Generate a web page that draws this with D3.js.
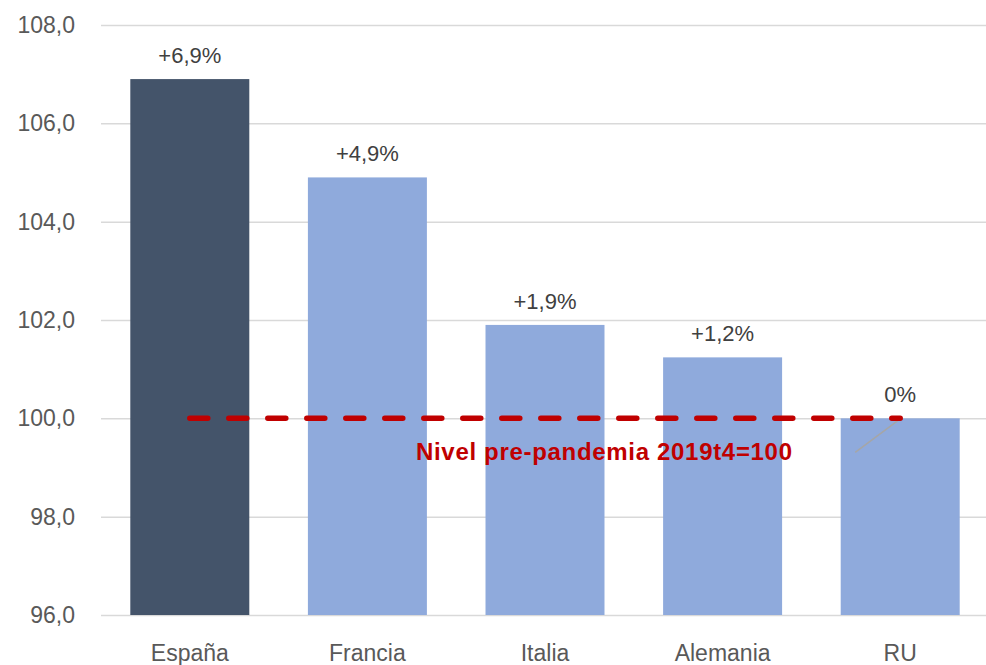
<!DOCTYPE html>
<html lang="es">
<head>
<meta charset="UTF-8">
<title>Nivel pre-pandemia</title>
<script src="https://d3js.org/d3.v7.min.js"></script>
<style>
  body { margin: 0; background: #fff; }
  text { font-family: "Liberation Sans", Arial, sans-serif; }
  .grid line { stroke: #d9d9d9; stroke-width: 1.5; }
  .grid path { stroke-width: 0; }
  .axis text { fill: #595959; font-size: 23px; }
  .axis path, .axis line { display: none; }
</style>
</head>
<body>
<div id="chart"></div>
<script>
// Data
const categories = ["España", "Francia", "Italia", "Alemania", "RU"];
const values = [106.9, 104.9, 101.9, 101.24, 100.0];
const labels = ["+6,9%", "+4,9%", "+1,9%", "+1,2%", "0%"];
const yTicks = [96, 98, 100, 102, 104, 106, 108];
const baseline = 100;
const baselineLabel = "Nivel pre-pandemia 2019t4=100";

const width = 986, height = 665;
const margin = { top: 25, right: -3, bottom: 50, left: 101 };
const innerW = width - margin.left - margin.right;
const innerH = height - margin.top - margin.bottom;

const svg = d3.select('#chart').append('svg')
  .attr('width', width).attr('height', height);

const g = svg.append('g')
  .attr('transform', `translate(${margin.left},${margin.top})`);

const x = d3.scaleBand().domain(categories).range([0, innerW]).paddingInner(0.33).paddingOuter(0.165);
const y = d3.scaleLinear().domain([96, 108]).range([innerH, 0]);

// gridlines
g.append('g')
  .attr('class', 'grid')
  .call(d3.axisLeft(y).tickValues(yTicks).tickSize(-innerW).tickFormat(''));

// bars
g.selectAll('.bar')
  .data(values)
  .enter().append('rect')
  .attr('class', 'bar')
  .attr('x', (d, i) => x(categories[i]))
  .attr('y', d => y(d))
  .attr('width', x.bandwidth())
  .attr('height', d => innerH - y(d))
  .attr('fill', (d, i) => i === 0 ? '#44546a' : '#8faadc');

// value labels
g.selectAll('.val')
  .data(values)
  .enter().append('text')
  .attr('x', (d, i) => x(categories[i]) + x.bandwidth() / 2)
  .attr('y', d => y(d) - 16)
  .attr('text-anchor', 'middle')
  .attr('fill', '#404040')
  .style('font-size', '22px')
  .text((d, i) => labels[i]);

// y axis
g.append('g')
  .attr('class', 'axis')
  .call(d3.axisLeft(y).tickValues(yTicks).tickSize(0).tickPadding(26)
    .tickFormat(d => d3.format('.1f')(d).replace('.', ',')));

// x axis
g.append('g')
  .attr('class', 'axis')
  .attr('transform', `translate(0,${innerH})`)
  .call(d3.axisBottom(x).tickSize(0).tickPadding(30));

// leader line for RU label
const ruX = x('RU') + x.bandwidth() / 2;
g.append('line')
  .attr('x1', ruX - 45).attr('y1', y(baseline) + 34)
  .attr('x2', ruX - 2).attr('y2', y(baseline) + 2)
  .attr('stroke', '#a6a6a6').attr('stroke-width', 1.5);

// pre-pandemic dashed line
const x0 = x(categories[0]) + x.bandwidth() / 2;
g.append('line')
  .attr('x1', x0).attr('x2', ruX)
  .attr('y1', y(baseline)).attr('y2', y(baseline))
  .attr('stroke', '#c00000')
  .attr('stroke-width', 5.5)
  .attr('stroke-linecap', 'round')
  .attr('stroke-dasharray', '18 21');

g.append('text')
  .attr('x', x('Italia') + x.bandwidth() / 2 + 59)
  .attr('y', y(baseline) + 42)
  .attr('text-anchor', 'middle')
  .attr('fill', '#c00000')
  .style('font-size', '24px')
  .style('font-weight', 'bold')
  .attr('textLength', 376)
  .text(baselineLabel);
</script>
</body>
</html>
